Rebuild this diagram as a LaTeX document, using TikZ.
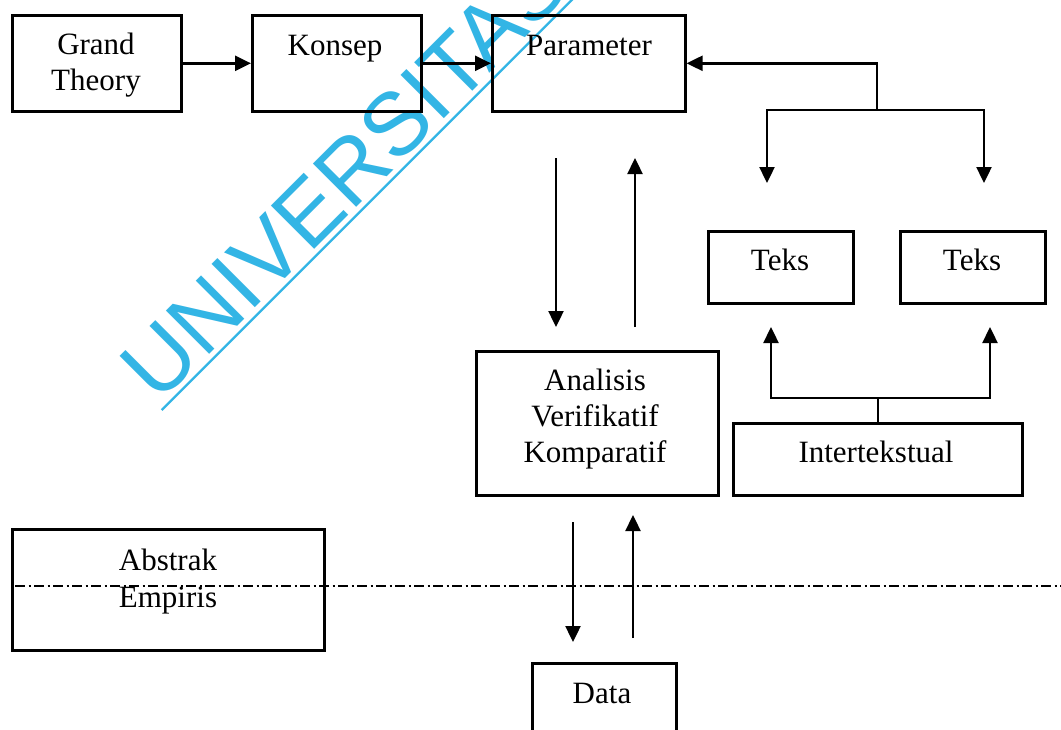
\documentclass[tikz,border=0pt]{standalone}
\usepackage{fontspec}
\setmainfont{Liberation Serif}
\newfontfamily\wmfont{Liberation Sans}
\usetikzlibrary{arrows.meta}
\definecolor{wmblue}{RGB}{51,181,229}
\begin{document}
\begin{tikzpicture}[x=1pt,y=-1pt,
  box/.style={draw, line width=2.6pt, rectangle, inner sep=0pt, anchor=north west},
  txt/.style={font=\fontsize{31}{37}\selectfont, inner sep=0pt, anchor=base},
  link/.style={line width=2.4pt},
  arr/.style={line width=2.4pt, -{Triangle[length=16pt,width=15pt]}},
  dashdot/.style={line width=2.4pt, dash pattern=on 10pt off 3.5pt on 2pt off 3.5pt},
  wmtext/.style={font=\wmfont\fontsize{89}{89}\selectfont, text=wmblue, rotate=45, anchor=base west, inner sep=0pt},
  wmline/.style={draw=wmblue, line width=2.2pt}
]
\useasboundingbox (0,0) rectangle (1061,729);
\clip (0,0) rectangle (1061,729);
\fill[white] (0,0) rectangle (1061,729);

% watermark
\node[wmtext] (wm) at (158.7,404.6) {UNIVERSITAS AIRLANGGA};
\coordinate (wl1) at (161.7,410);
\coordinate (wl2) at (591.7,-20);
\draw[wmline] (wl1) -- (wl2);

% boxes
\node[box, minimum width=169pt, minimum height=96pt] (gt) at (11,14) {};
\node[box, minimum width=169pt, minimum height=96pt] (kon) at (251,14) {};
\node[box, minimum width=193pt, minimum height=96pt] (par) at (491,14) {};
\node[box, minimum width=145pt, minimum height=72pt] (teksA) at (707,230) {};
\node[box, minimum width=145pt, minimum height=72pt] (teksB) at (899,230) {};
\node[box, minimum width=289pt, minimum height=72pt] (inter) at (732,422) {};
\node[box, minimum width=242pt, minimum height=144pt] (ana) at (475,350) {};
\node[box, minimum width=312pt, minimum height=121pt] (abs) at (11,528) {};
\node[box, minimum width=144pt, minimum height=100pt] (data) at (531,662) {};

% labels
\node[txt] (gtA) at (96,54) {Grand};
\node[txt] (gtB) at (96,90) {Theory};
\node[txt] (konT) at (335,55) {Konsep};
\node[txt] (parT) at (589,55) {Parameter};
\node[txt] (teksAT) at (780,270) {Teks};
\node[txt] (teksBT) at (972,270) {Teks};
\node[txt] (interT) at (876,462) {Intertekstual};
\node[txt] (anaA) at (595,390) {Analisis};
\node[txt] (anaB) at (595,426) {Verifikatif};
\node[txt] (anaC) at (595,462) {Komparatif};
\node[txt] (absA) at (168,570) {Abstrak};
\node[txt] (absB) at (168,607) {Empiris};
\node[txt] (dataT) at (602,703) {Data};

% top row
\draw[arr] (gt.east) -- (kon.west);
\draw[arr] (kon.east) -- (par.west);

% fork between Parameter and the two Teks
\coordinate (fk) at (877,110);
\coordinate (tinA) at (767,183);
\coordinate (tinB) at (984,183);
\draw[arr] (fk) -- (fk |- par.east) -- (par.east);
\draw[arr] (fk) -| (tinA);
\draw[arr] (fk) -| (tinB);

% Intertekstual feeding both Teks
\coordinate (jn) at (876.5,398);
\coordinate (toutA) at (771,327);
\coordinate (toutB) at (990,327);
\draw[link] (inter.north) -- (inter.north |- jn);
\draw[arr] (jn) -| (toutA);
\draw[arr] (jn) -| (toutB);

% Parameter <-> Analisis
\coordinate (pdA) at (556,158);
\coordinate (pdB) at (556,327);
\coordinate (puA) at (635,327);
\coordinate (puB) at (635,158);
\draw[arr] (pdA) -- (pdB);
\draw[arr] (puA) -- (puB);

% Analisis <-> Data
\coordinate (adA) at (573,522);
\coordinate (adB) at (573,642);
\coordinate (auA) at (633,638);
\coordinate (auB) at (633,515);
\draw[arr] (adA) -- (adB);
\draw[arr] (auA) -- (auB);

% abstract / empirical divide
\coordinate (dvL) at (15,586);
\coordinate (dvR) at (1061,586);
\draw[dashdot] (dvL) -- (dvR);
\end{tikzpicture}
\end{document}
